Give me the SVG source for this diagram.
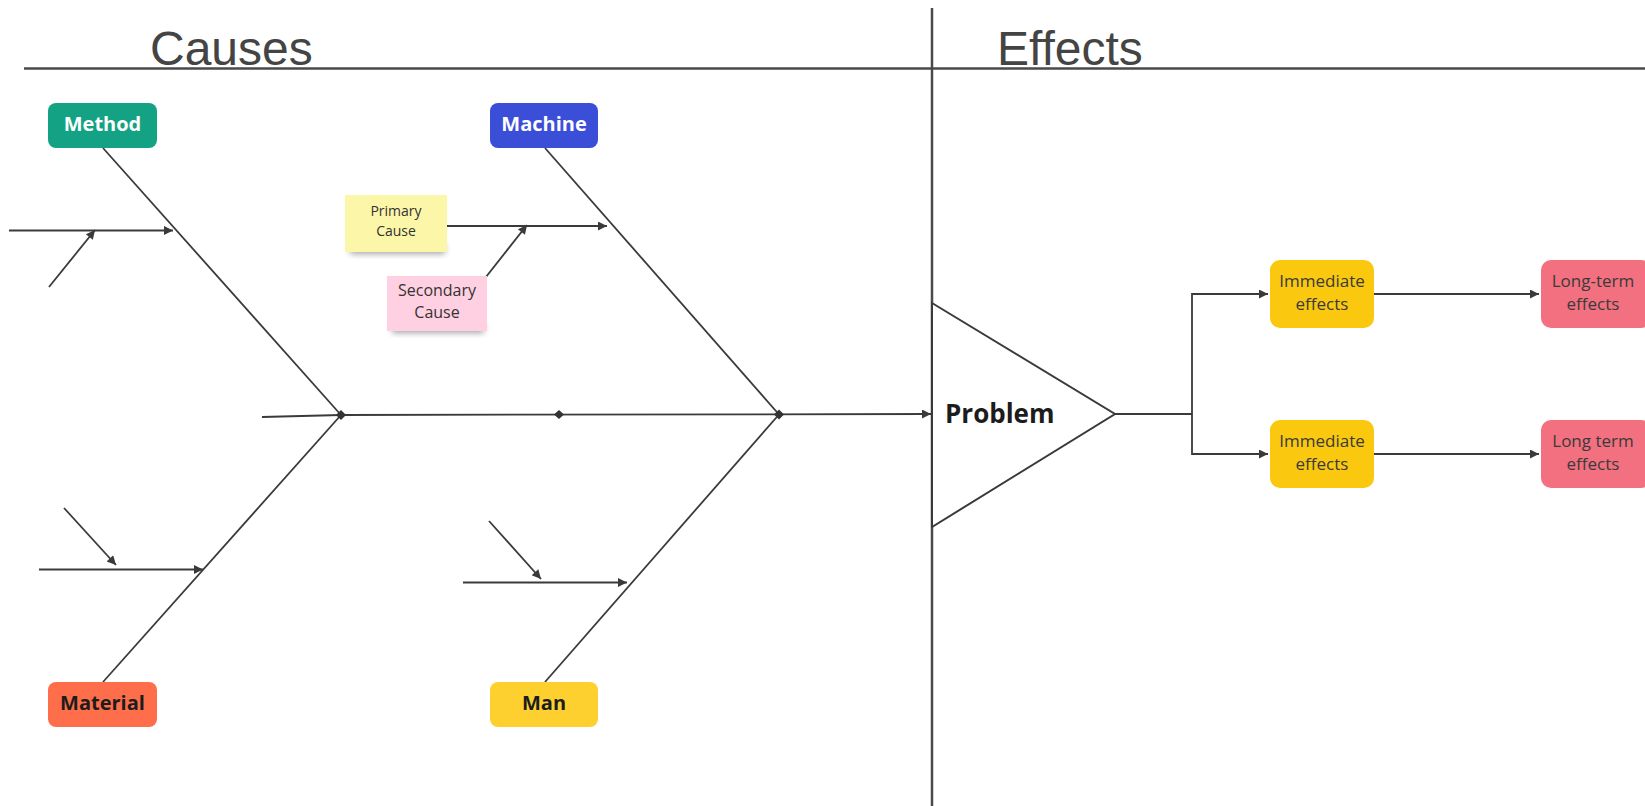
<svg xmlns="http://www.w3.org/2000/svg" width="1645" height="806" viewBox="0 0 1645 806">
  <style>
    .rule { stroke: #4a4a4a; stroke-width: 2.5; fill: none; }
    .bone { stroke: #3a3a3a; stroke-width: 1.8; fill: none; }
    .arrow { stroke: #3a3a3a; stroke-width: 1.8; fill: none; marker-end: url(#arr); }
    .head { font-family: "Liberation Sans", Arial, sans-serif; font-size: 48px; fill: #444; }
    .cat { font-family: "Open Sans", "Noto Sans", sans-serif; font-size: 20px; font-weight: 700; text-anchor: middle; }
    .note { font-family: "Open Sans", "Noto Sans", sans-serif; fill: #333; text-anchor: middle; }
    .eff { font-family: "Open Sans", "Noto Sans", sans-serif; font-size: 17px; fill: #3a3a3a; text-anchor: middle; }
  </style>
  <defs>
    <marker id="arr" viewBox="0 0 10 10" refX="10" refY="5" markerWidth="12" markerHeight="9" markerUnits="userSpaceOnUse" orient="auto">
      <path d="M0,0 L10,5 L0,10 z" fill="#3a3a3a"/>
    </marker>
    <filter id="soft" x="-20%" y="-50%" width="140%" height="200%">
      <feGaussianBlur stdDeviation="3"/>
    </filter>
  </defs>

  <rect width="1645" height="806" fill="#ffffff"/>

  <!-- section headers and dividers -->
  <g id="headers">
    <line class="rule" x1="24" y1="68.5" x2="1645" y2="68.5"/>
    <line class="rule" x1="932" y1="8" x2="932" y2="806"/>
    <text class="head" x="150" y="65">Causes</text>
    <text class="head" x="997" y="65">Effects</text>
  </g>

  <!-- connectors: spine, bones, cause arrows, effect arrows -->
  <g id="connectors">
    <!-- spine -->
    <line class="bone" x1="262" y1="417" x2="341" y2="415"/>
    <line class="arrow" x1="341" y1="415" x2="931" y2="414"/>
    <!-- bones -->
    <line class="bone" x1="103" y1="148" x2="341" y2="415"/>
    <line class="bone" x1="103" y1="682" x2="341" y2="415"/>
    <line class="bone" x1="545" y1="148" x2="779" y2="414.5"/>
    <line class="bone" x1="545" y1="682" x2="779" y2="414.5"/>
    <!-- Method causes -->
    <line class="arrow" x1="9" y1="230.5" x2="173" y2="230.5"/>
    <line class="arrow" x1="49" y1="287" x2="95" y2="230"/>
    <!-- Machine causes -->
    <line class="arrow" x1="444" y1="226" x2="607" y2="226"/>
    <line class="arrow" x1="482" y1="282" x2="527" y2="225"/>
    <!-- Material causes -->
    <line class="arrow" x1="39" y1="569.5" x2="203" y2="569.5"/>
    <line class="arrow" x1="64" y1="508" x2="116" y2="565"/>
    <!-- Man causes -->
    <line class="arrow" x1="463" y1="582.5" x2="627" y2="582.5"/>
    <line class="arrow" x1="489" y1="521" x2="541" y2="579"/>
    <!-- joints on the spine -->
    <polygon points="341,410 346,415 341,420 336,415" fill="#333"/>
    <polygon points="559,410 564,414.5 559,419 554,414.5" fill="#333"/>
    <polygon points="779,409.5 784,414.5 779,419.5 774,414.5" fill="#333"/>
    <!-- effects branches -->
    <polyline class="bone" points="1115,414 1192,414"/>
    <polyline class="arrow" points="1192,414 1192,294 1268,294"/>
    <polyline class="arrow" points="1192,414 1192,454 1268,454"/>
    <line class="arrow" x1="1374" y1="294" x2="1539" y2="294"/>
    <line class="arrow" x1="1374" y1="454" x2="1539" y2="454"/>
  </g>

  <!-- cause categories -->
  <g id="method">
    <rect x="48" y="103" width="109" height="45" rx="8" fill="#13a283"/>
    <text class="cat" x="102.5" y="131" fill="#ffffff">Method</text>
  </g>
  <g id="machine">
    <rect x="490" y="103" width="108" height="45" rx="8" fill="#3b4ed8"/>
    <text class="cat" x="544" y="131" fill="#ffffff">Machine</text>
  </g>
  <g id="material">
    <rect x="48" y="682" width="109" height="45" rx="8" fill="#fe6e4a"/>
    <text class="cat" x="102.5" y="710" fill="#1c1c1c">Material</text>
  </g>
  <g id="man">
    <rect x="490" y="682" width="108" height="45" rx="8" fill="#fdd02f"/>
    <text class="cat" x="544" y="710" fill="#1c1c1c">Man</text>
  </g>

  <!-- sticky notes -->
  <g id="primary-cause">
    <rect x="350" y="244" width="95" height="10" fill="#000" opacity="0.35" filter="url(#soft)"/>
    <rect x="345" y="195" width="102" height="57" fill="#fcf6a9"/>
    <text class="note" x="396" y="216" font-size="14">Primary</text>
    <text class="note" x="396" y="236" font-size="14">Cause</text>
  </g>
  <g id="secondary-cause">
    <rect x="392" y="323" width="92" height="10" fill="#000" opacity="0.35" filter="url(#soft)"/>
    <rect x="387" y="276" width="100" height="55" fill="#ffd0e1"/>
    <text class="note" x="437" y="296" font-size="16">Secondary</text>
    <text class="note" x="437" y="318" font-size="16">Cause</text>
  </g>

  <!-- problem head -->
  <g id="problem">
    <polygon points="932,303 1115,414 932,527" fill="#ffffff" stroke="#3a3a3a" stroke-width="2"/>
    <text x="945" y="423" font-family="Open Sans, Noto Sans, sans-serif" font-size="26" font-weight="700" fill="#1c1c1c">Problem</text>
  </g>

  <!-- effects -->
  <g id="immediate-1">
    <rect x="1270" y="260" width="104" height="68" rx="10" fill="#f9c80f"/>
    <text class="eff" x="1322" y="287">Immediate</text>
    <text class="eff" x="1322" y="310">effects</text>
  </g>
  <g id="immediate-2">
    <rect x="1270" y="420" width="104" height="68" rx="10" fill="#f9c80f"/>
    <text class="eff" x="1322" y="447">Immediate</text>
    <text class="eff" x="1322" y="470">effects</text>
  </g>
  <g id="long-term-1">
    <rect x="1541" y="260" width="110" height="68" rx="10" fill="#f2707f"/>
    <text class="eff" x="1593" y="287">Long-term</text>
    <text class="eff" x="1593" y="310">effects</text>
  </g>
  <g id="long-term-2">
    <rect x="1541" y="420" width="110" height="68" rx="10" fill="#f2707f"/>
    <text class="eff" x="1593" y="447">Long term</text>
    <text class="eff" x="1593" y="470">effects</text>
  </g>
</svg>
